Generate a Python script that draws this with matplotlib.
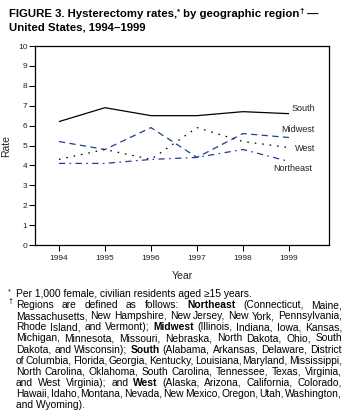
import matplotlib
matplotlib.use("Agg")
import matplotlib.pyplot as plt

# ---------------- data ----------------
years = [1994, 1995, 1996, 1997, 1998, 1999]
south = [6.2, 6.9, 6.5, 6.5, 6.7, 6.6]
midwest = [5.2, 4.8, 5.9, 4.4, 5.6, 5.4]
west = [4.3, 4.8, 4.3, 5.9, 5.2, 4.9]
northeast = [4.1, 4.1, 4.3, 4.4, 4.8, 4.2]
y_ticks = list(range(0, 11))
region_names = ["South", "Midwest", "West", "Northeast"]

title_line1 = [("FIGURE 3. Hysterectomy rates,", False), ("*", True),
               (" by geographic region", False), ("\u2020", True), (" \u2014", False)]
title_line2 = "United States, 1994\u20131999"

footnote_lines = [
    "Per 1,000 female, civilian residents aged \u226515 years.",
    "Regions are defined as follows: **Northeast** (Connecticut, Maine,",
    "Massachusetts, New Hampshire, New Jersey, New York, Pennsylvania,",
    "Rhode Island, and Vermont); **Midwest** (Illinois, Indiana, Iowa, Kansas,",
    "Michigan, Minnesota, Missouri, Nebraska, North Dakota, Ohio, South",
    "Dakota, and Wisconsin); **South** (Alabama, Arkansas, Delaware, District",
    "of Columbia, Florida, Georgia, Kentucky, Louisiana, Maryland, Mississippi,",
    "North Carolina, Oklahoma, South Carolina, Tennessee, Texas, Virginia,",
    "and West Virginia); and **West** (Alaska, Arizona, California, Colorado,",
    "Hawaii, Idaho, Montana, Nevada, New Mexico, Oregon, Utah, Washington,",
    "and Wyoming).",
]
justified = [False, True, True, True, True, True, True, True, True, True, False]

# ---------------- figure ----------------
W, H = 348, 419
plt.rcParams['font.family'] = ['Liberation Sans', 'DejaVu Sans']
fig = plt.figure(figsize=(W / 100, H / 100), dpi=100)
fig.patch.set_facecolor("white")

def fx(px):
    return px / W

def fy(py):
    return 1 - py / H

ax = fig.add_axes([fx(35), fy(245), (329 - 35) / W, (245 - 46) / H])

blue = "#1c3f93"
ax.plot(years, south, color="black", lw=0.9, solid_capstyle="butt")
ax.plot(years, midwest, color=blue, lw=0.9, linestyle=(0, (5, 3.5)))
ax.plot(years, west, color="black", lw=0.9, linestyle=(0, (1.3, 4.7)))
ax.plot(years, northeast, color=blue, lw=0.9, linestyle=(0, (5, 3.5, 1.3, 3.5)))

label_pos = {"South": (1999.06, 6.87), "Midwest": (1998.84, 5.78),
             "West": (1999.13, 4.87), "Northeast": (1998.66, 3.85)}
for name in region_names:
    x, y = label_pos[name]
    ax.text(x, y, name, fontsize=6.5, ha="left", va="center", color="#222222")

ax.set_xlim(1993.48, 1999.87)
ax.set_ylim(0, 10)
ax.set_xticks(years)
ax.set_xticklabels([str(y) for y in years])
ax.set_yticks(y_ticks)
ax.tick_params(axis="both", labelsize=6, length=4, width=0.75, pad=1.5,
               direction="out", colors="black", labelcolor="#222222")
ax.tick_params(axis="x", pad=3)
for s in ax.spines.values():
    s.set_linewidth(0.9)
ax.set_xlabel("Year", fontsize=7.5, labelpad=7, color="#222222")
ax.set_ylabel("Rate", fontsize=7.5, labelpad=5, color="#222222")

# ---------------- text helpers ----------------
renderer = fig.canvas.get_renderer()

def measure(s, size, weight="normal"):
    t = fig.text(0, 0, s, fontsize=size, fontweight=weight)
    w = t.get_window_extent(renderer).width
    t.remove()
    return w

def put(s, x, y, size, weight="normal"):
    fig.text(fx(x), fy(y), s, fontsize=size, fontweight=weight,
             ha="left", va="baseline", color="black")

# title
tsize = 8.2
x = 9
for seg, sup in title_line1:
    sz = tsize * 0.7 if sup else tsize
    dy = -3.2 if sup else 0
    put(seg, x, 16.7 + dy, sz, "bold")
    x += measure(seg, sz, "bold")
put(title_line2, 9, 30.2, tsize, "bold")

# footnotes
fsize = 7.4
left, right = 16, 342
base0, step = 297.3, 11.04
put("*", 8, 293.5, 5.2)
put("\u2020", 8.5, 302.5, 5.2)
for i, line in enumerate(footnote_lines):
    y = base0 + i * step
    if not justified[i]:
        put(line, 15.5, y, fsize)
        continue
    toks = []
    for w_ in line.split(" "):
        if w_.startswith("**"):
            toks.append((w_.strip("*"), "bold"))
        else:
            toks.append((w_, "normal"))
    widths = [measure(t, fsize, wt) for t, wt in toks]
    gap = (right - left - sum(widths)) / (len(toks) - 1)
    x = left
    for (t, wt), w_ in zip(toks, widths):
        put(t, x, y, fsize, wt)
        x += w_ + gap

fig.savefig("out.png", dpi=100, facecolor="white")
